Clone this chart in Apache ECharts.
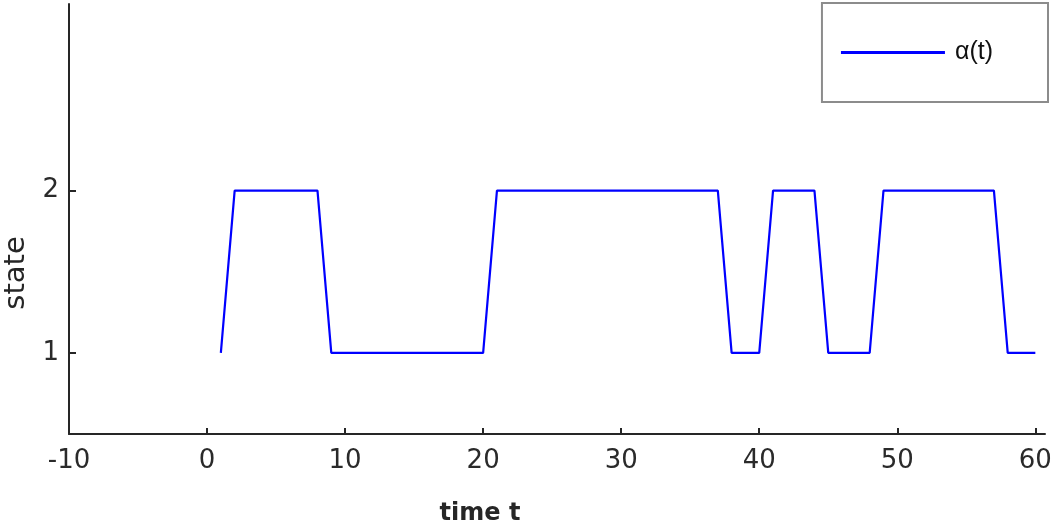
<!DOCTYPE html>
<html>
<head>
<meta charset="utf-8">
<script src="https://cdn.jsdelivr.net/npm/echarts@6/dist/echarts.min.js"></script>
<style>html,body{margin:0;padding:0;background:#fff}#c{width:1056px;height:527px}</style>
</head>
<body>
<div id="c"></div>
<script>
const timeT = [1,2,3,4,5,6,7,8,9,10,11,12,13,14,15,16,17,18,19,20,21,22,23,24,25,26,27,28,29,30,31,32,33,34,35,36,37,38,39,40,41,42,43,44,45,46,47,48,49,50,51,52,53,54,55,56,57,58,59,60];
const alphaT = [1,2,2,2,2,2,2,2,1,1,1,1,1,1,1,1,1,1,1,1,2,2,2,2,2,2,2,2,2,2,2,2,2,2,2,2,2,1,1,1,2,2,2,2,1,1,1,1,2,2,2,2,2,2,2,2,2,1,1,1];
const xTicks = [-10,0,10,20,30,40,50,60];
const yTicks = [1,2];
const seriesName = 'α(t)';

const chart = echarts.init(document.getElementById('c'), null, {renderer:'canvas'});
const axisColor = '#262626';
chart.setOption({
  animation:false,
  backgroundColor:'#fff',
  grid:{left:69, top:4, right:11, bottom:93, containLabel:false, outerBoundsMode:'none'},
  legend:{
    right:8, top:3,
    padding:[37,55,37,19],
    borderColor:'#8c8c8c', borderWidth:2, borderRadius:0, backgroundColor:'#fff',
    itemWidth:104, itemHeight:14, itemGap:10,
    textStyle:{fontFamily:'Liberation Sans', fontSize:25, color:'#111', padding:[0,0,0,5]},
    data:[{name:seriesName, icon:'path://M0,0L104,0L104,3L0,3Z'}]
  },
  xAxis:{
    type:'value', min:-10, max:60.7,
    name:'time t', nameLocation:'middle', nameGap:68,
    nameTextStyle:{fontFamily:'DejaVu Sans', fontWeight:'bold', fontSize:24, color:'#262626', padding:[0,154,0,0]},
    splitLine:{show:false},
    axisLine:{show:true, onZero:false, lineStyle:{color:axisColor, width:2}},
    axisTick:{show:true, inside:true, length:6, lineStyle:{color:axisColor, width:2}, customValues:xTicks},
    axisLabel:{fontFamily:'DejaVu Sans', fontSize:26, color:'#2a2a2a', margin:14, customValues:xTicks}
  },
  yAxis:{
    type:'value', min:0.5, max:3.15,
    name:'state', nameLocation:'middle', nameGap:38,
    nameTextStyle:{fontFamily:'DejaVu Sans', fontSize:29, color:'#262626', padding:[0,108,0,0]},
    splitLine:{show:false},
    axisLine:{show:true, onZero:false, lineStyle:{color:axisColor, width:2}},
    axisTick:{show:true, inside:true, length:7, lineStyle:{color:axisColor, width:2}, customValues:yTicks},
    axisLabel:{fontFamily:'DejaVu Sans', fontSize:26, color:'#2a2a2a', margin:10, customValues:yTicks}
  },
  series:[{
    name:seriesName, type:'line', symbol:'none',
    data: timeT.map((t,i)=>[t, alphaT[i]]),
    lineStyle:{color:'#0000ff', width:2.2},
    itemStyle:{color:'#0000ff'}
  }]
});
</script>
</body>
</html>
